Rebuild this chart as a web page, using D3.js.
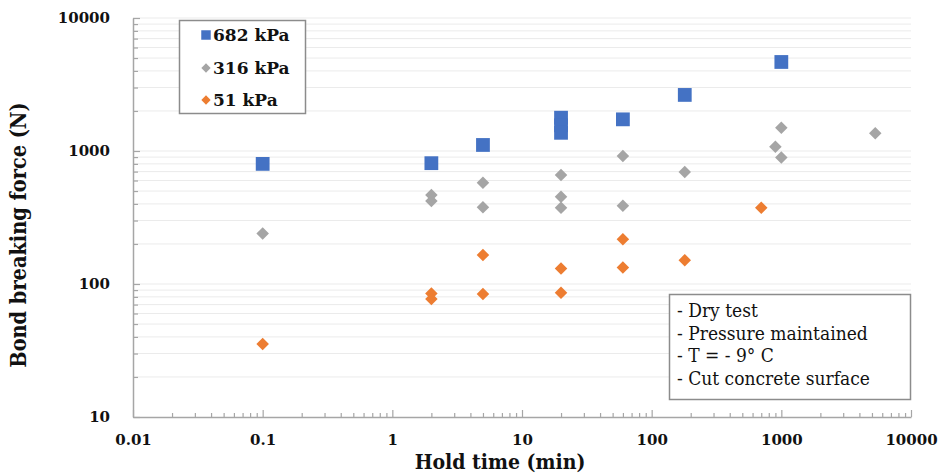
<!DOCTYPE html>
<html>
<head>
<meta charset="utf-8">
<script src="https://cdn.jsdelivr.net/npm/d3@7"></script>
<style>
  body { margin: 0; background: #fff; }
  svg { display: block; }
  text { font-family: "DejaVu Serif Condensed", "DejaVu Serif", serif; fill: #111; }
</style>
</head>
<body>
<svg id="chart" width="944" height="474"></svg>
<script>
// hold time (min) and bond breaking force (N)
let t682 = [0.1, 2, 5, 20, 20, 20, 60, 180, 1000];
let f682 = [800, 810, 1110, 1780, 1560, 1370, 1730, 2640, 4670];
let t316 = [0.1, 2, 2, 5, 5, 20, 20, 20, 60, 60, 180, 900, 1000, 1000, 5300];
let f316 = [240, 467, 421, 578, 377, 660, 453, 375, 917, 388, 695, 1077, 1497, 895, 1358];
let t51 = [0.1, 2, 2, 5, 5, 20, 20, 60, 60, 180, 700];
let f51 = [35.4, 85, 77, 165, 84, 131, 86, 217, 133, 151, 375];

let x_ticks = [0.01, 0.1, 1, 10, 100, 1000, 10000];
let x_labels = ["0.01", "0.1", "1", "10", "100", "1000", "10000"];
let y_ticks = [10, 100, 1000, 10000];
let y_labels = ["10", "100", "1000", "10000"];
let series_names = ["682 kPa", "316 kPa", "51 kPa"];
let notes = ["- Dry test", "- Pressure maintained", "- T = - 9° C", "- Cut concrete surface"];

let colors = ["#4472c4", "#a5a5a5", "#ed7d31"];

let svg = d3.select("#chart");

let x = d3.scaleLog().domain([0.01, 10000]).range([133, 911]);
let y = d3.scaleLog().domain([10, 10000]).range([417, 18]);

// minor values 2..9 in every decade
function minors(lo, hi) {
    let out = [];
    for (let d = lo; d < hi; d *= 10) {
        for (let k = 2; k <= 9; ++k) out.push(d * k);
    }
    return out;
}
let x_minor = minors(0.01, 10000);
let y_minor = minors(10, 10000);

// horizontal gridlines
svg.append("g")
    .selectAll("line")
    .data(y_minor.concat(y_ticks.slice(1)))
    .join("line")
    .attr("x1", x(0.01))
    .attr("x2", x(10000))
    .attr("y1", d => y(d))
    .attr("y2", d => y(d))
    .attr("stroke", "#ebebeb")
    .attr("stroke-width", 1);

let axis_color = "#a6a6a6";

let style_axis = g => {
    g.selectAll(".domain").attr("stroke", axis_color).attr("stroke-width", 1.5);
    g.selectAll(".tick line").attr("stroke", axis_color).attr("stroke-width", 1.2);
    g.selectAll("text")
        .style("font-family", "'DejaVu Serif', serif")
        .style("font-weight", "bold")
        .style("font-size", "15px")
        .attr("fill", "#111");
};

// x axis
svg.append("g")
    .attr("transform", `translate(0, ${y(10)})`)
    .call(d3.axisBottom(x).tickValues(x_minor).tickSize(-4).tickSizeOuter(0).tickFormat(""))
    .call(style_axis);
svg.append("g")
    .attr("transform", `translate(0, ${y(10)})`)
    .call(d3.axisBottom(x).tickValues(x_ticks).tickSize(-7).tickSizeOuter(0).tickPadding(17)
        .tickFormat((d, i) => x_labels[i]))
    .call(style_axis)
    .call(g => g.select(".domain").remove());

// y axis
svg.append("g")
    .attr("transform", `translate(${x(0.01)}, 0)`)
    .call(d3.axisLeft(y).tickValues(y_minor).tickSize(-5).tickSizeOuter(0).tickFormat(""))
    .call(style_axis);
svg.append("g")
    .attr("transform", `translate(${x(0.01)}, 0)`)
    .call(d3.axisLeft(y).tickValues(y_ticks).tickSize(-7).tickSizeOuter(0).tickPadding(23)
        .tickFormat((d, i) => y_labels[i]))
    .call(style_axis)
    .call(g => g.select(".domain").remove());

// points
let square = d3.symbol().type(d3.symbolSquare).size(190);
let diamond = d3.symbol().type(d3.symbolDiamond2).size(100);

function draw_points(ts, fs, sym, color) {
    let pts = ts.map((t, i) => ({t: t, f: fs[i]}));
    svg.append("g")
        .selectAll("path")
        .data(pts)
        .join("path")
        .attr("transform", d => `translate(${x(d.t)}, ${y(d.f)})`)
        .attr("d", sym)
        .attr("fill", color);
}
draw_points(t51, f51, diamond, colors[2]);
draw_points(t316, f316, diamond, colors[1]);
draw_points(t682, f682, square, colors[0]);

// legend
let legend = svg.append("g");
legend.append("rect")
    .attr("x", 179.5).attr("y", 20.5)
    .attr("width", 126).attr("height", 93)
    .attr("fill", "#fff")
    .attr("stroke", "#8c8c8c")
    .attr("stroke-width", 1.5);
let leg_syms = [d3.symbol().type(d3.symbolSquare).size(90), d3.symbol().type(d3.symbolDiamond2).size(55), d3.symbol().type(d3.symbolDiamond2).size(55)];
let leg_y = [35, 68, 100];
series_names.forEach((name, i) => {
    legend.append("path")
        .attr("transform", `translate(206, ${leg_y[i]})`)
        .attr("d", leg_syms[i])
        .attr("fill", colors[i]);
    legend.append("text")
        .attr("x", 213)
        .attr("y", leg_y[i])
        .attr("dy", "0.35em")
        .style("font-family", "'DejaVu Serif', serif")
        .style("font-weight", "bold")
        .style("font-size", "17px")
        .text(name);
});

// notes box
let note = svg.append("g");
note.append("rect")
    .attr("x", 669.5).attr("y", 294.5)
    .attr("width", 241).attr("height", 105)
    .attr("fill", "#fff")
    .attr("stroke", "#8c8c8c")
    .attr("stroke-width", 1.5);
notes.forEach((s, i) => {
    note.append("text")
        .attr("x", 677)
        .attr("y", 317 + i * 22.5)
        .style("font-size", "19px")
        .text(s);
});

// axis titles
svg.append("text")
    .attr("transform", "translate(26, 235) rotate(-90)")
    .attr("text-anchor", "middle")
    .style("font-weight", "bold")
    .style("font-size", "21.5px")
    .text("Bond breaking force (N)");
svg.append("text")
    .attr("x", 500)
    .attr("y", 469)
    .attr("text-anchor", "middle")
    .style("font-weight", "bold")
    .style("font-size", "21px")
    .text("Hold time (min)");
</script>
</body>
</html>
